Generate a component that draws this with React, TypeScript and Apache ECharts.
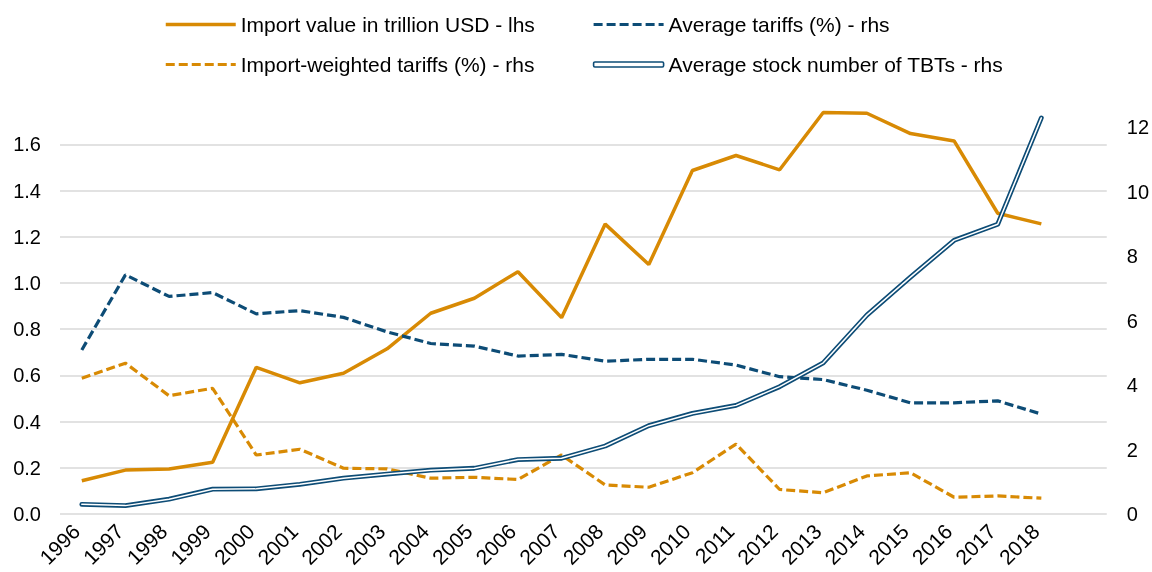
import React, { useEffect, useRef } from "react";
import * as echarts from "echarts";

const years = ["1996","1997","1998","1999","2000","2001","2002","2003","2004","2005","2006","2007","2008","2009","2010","2011","2012","2013","2014","2015","2016","2017","2018",""];

const importValue = [0.144,0.19,0.195,0.224,0.635,0.568,0.609,0.715,0.869,0.934,1.049,0.85,1.255,1.08,1.487,1.552,1.49,1.738,1.735,1.647,1.615,1.302,1.256];
const avgTariffs = [5.09,7.42,6.75,6.87,6.21,6.31,6.1,5.65,5.29,5.21,4.9,4.95,4.74,4.8,4.8,4.62,4.26,4.17,3.84,3.45,3.45,3.51,3.1];
const weightedTariffs = [4.21,4.68,3.67,3.9,1.83,2.01,1.42,1.4,1.11,1.14,1.07,1.83,0.9,0.83,1.28,2.17,0.76,0.66,1.18,1.28,0.52,0.56,0.49];
const tbtStock = [0.3,0.26,0.46,0.77,0.78,0.92,1.11,1.24,1.36,1.42,1.69,1.73,2.11,2.74,3.12,3.37,3.95,4.69,6.17,7.35,8.49,8.99,12.29];

const leftTicks = { min: 0, max: 1.8, interval: 0.2 };
const rightTicks = { min: 0, max: 12.9, interval: 2 };

const names = {
  imp: "Import value in trillion USD - lhs",
  avg: "Average tariffs (%) - rhs",
  wtd: "Import-weighted tariffs (%) - rhs",
  tbt: "Average stock number of TBTs - rhs",
};

const ORANGE = "#d88a04";
const BLUE = "#0d4c76";
const FONT = "'Liberation Sans', Arial, sans-serif";

export default function App() {
  const ref = useRef<HTMLDivElement>(null);
  useEffect(() => {
    if (!ref.current) return;
    const chart = echarts.init(ref.current, undefined, { renderer: "svg" });
    const dash = [9, 4];
    const legendCommon = {
      orient: "vertical" as const,
      itemWidth: 70,
      itemHeight: 5,
      itemGap: 19,
      selectedMode: false,
      textStyle: { fontSize: 21, fontFamily: FONT, color: "#000", lineHeight: 21 },
      padding: 0,
    };
    const gridColors = [] as string[];
    const nLines = Math.round((leftTicks.max - leftTicks.min) / leftTicks.interval) + 1;
    for (let i = 0; i < nLines; i++) gridColors.push(i === nLines - 1 ? "rgba(0,0,0,0)" : "#d9d9d9");
    const hiddenSymbol = { opacity: 0 };
    chart.setOption({
      animation: false,
      textStyle: { fontFamily: FONT },
      legend: [
        {
          ...legendCommon,
          left: 164,
          top: 14,
          data: [
            { name: names.imp, lineStyle: { width: 3.5 }, itemStyle: hiddenSymbol },
            { name: names.wtd, lineStyle: { width: 3.2 }, itemStyle: hiddenSymbol },
          ],
        },
        {
          ...legendCommon,
          left: 592,
          top: 14,
          data: [
            { name: names.avg, lineStyle: { width: 3.2 }, itemStyle: hiddenSymbol },
            { name: names.tbt, icon: "roundRect", itemStyle: { color: "#fff", borderColor: BLUE, borderWidth: 1.6 } },
          ],
        },
      ],
      grid: { left: 60, right: 45, top: 98.2, bottom: 58, containLabel: false },
      xAxis: {
        type: "category",
        data: years,
        boundaryGap: true,
        axisLine: { show: false },
        axisTick: { show: false },
        axisLabel: { interval: 0, rotate: 45, fontSize: 21, color: "#000", fontFamily: FONT, margin: 8, padding: [0, 8, 0, 0] },
      },
      yAxis: [
        {
          type: "value",
          min: leftTicks.min,
          max: leftTicks.max,
          interval: leftTicks.interval,
          axisLine: { show: false },
          axisTick: { show: false },
          axisLabel: {
            fontSize: 20, color: "#000", fontFamily: FONT, margin: 19, showMaxLabel: false,
            formatter: (v: number) => v.toFixed(1),
          },
          splitLine: { show: true, lineStyle: { color: gridColors, width: 1.5 } },
        },
        {
          type: "value",
          min: rightTicks.min,
          max: rightTicks.max,
          interval: rightTicks.interval,
          axisLine: { show: false },
          axisTick: { show: false },
          axisLabel: { fontSize: 20, color: "#000", fontFamily: FONT, margin: 20, showMaxLabel: false },
          splitLine: { show: false },
        },
      ],
      series: [
        {
          name: names.imp, type: "line", yAxisIndex: 0, data: importValue, symbol: "none",
          lineStyle: { color: ORANGE, width: 3.5 }, itemStyle: { color: ORANGE },
        },
        {
          name: names.avg, type: "line", yAxisIndex: 1, data: avgTariffs, symbol: "none",
          lineStyle: { color: BLUE, width: 3.2, type: dash }, itemStyle: { color: BLUE },
        },
        {
          name: names.wtd, type: "line", yAxisIndex: 1, data: weightedTariffs, symbol: "none",
          lineStyle: { color: ORANGE, width: 3.2, type: dash }, itemStyle: { color: ORANGE },
        },
        {
          name: names.tbt, type: "line", yAxisIndex: 1, data: tbtStock, symbol: "none",
          lineStyle: { color: BLUE, width: 4.8, cap: "round", join: "round" }, itemStyle: { color: BLUE },
        },
        {
          name: "tbt-inner", type: "line", yAxisIndex: 1, data: tbtStock, symbol: "none",
          lineStyle: { color: "#fff", width: 1.5, cap: "round", join: "round" }, itemStyle: { color: "#fff" },
          silent: true,
        },
      ],
    });
    return () => chart.dispose();
  }, []);
  return <div ref={ref} style={{ position: "fixed", left: 0, top: 0, width: 1152, height: 572 }} />;
}
